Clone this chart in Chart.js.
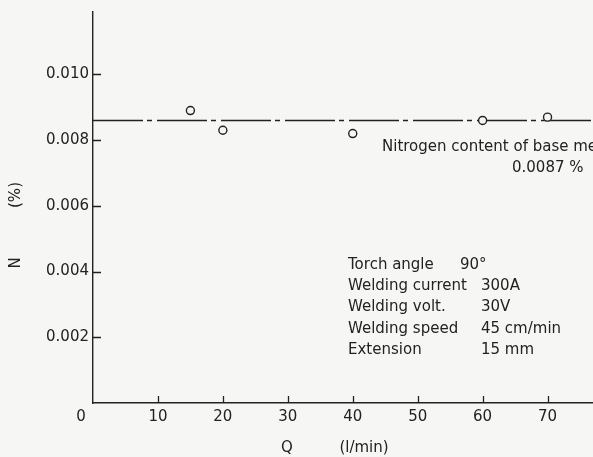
<!DOCTYPE html>
<html>
<head>
<meta charset="utf-8">
<script src="https://cdn.jsdelivr.net/npm/chart.js@4"></script>
<style>
  html, body { margin: 0; padding: 0; background: #f6f6f4; }
  #c { display: block; }
</style>
</head>
<body>
<canvas id="c" width="593" height="457"></canvas>
<script>
// CO2 flow rate Q (l/min) vs nitrogen content N (%)
const flowRate = [15, 20, 40, 60, 70];
const nitrogen = [0.0089, 0.0083, 0.0082, 0.0086, 0.0087];
const baseMetalN = 0.0086;           // dash-dot reference line
const baseLineRange = [0, 77];
const xTicks = [0, 10, 20, 30, 40, 50, 60, 70];
const yTicks = [0.002, 0.004, 0.006, 0.008, 0.010];

const ink = '#222';
const font = 'DejaVu Sans';

const conditions = [
  ['Torch angle', '90°'],
  ['Welding current', '300A'],
  ['Welding volt.', '30V'],
  ['Welding speed', '45 cm/min'],
  ['Extension', '15 mm']
];

// inside ticks, tick labels, axis titles and notes
const decor = {
  id: 'decor',
  afterDraw(chart) {
    const c = chart.ctx, xs = chart.scales.x, ys = chart.scales.y;
    const area = chart.chartArea;
    c.save();
    c.strokeStyle = ink;
    c.fillStyle = ink;
    c.lineWidth = 1.3;
    c.beginPath();
    xTicks.forEach(v => {
      if (v === 0) return;
      const px = Math.round(xs.getPixelForValue(v)) + 0.5;
      c.moveTo(px, area.bottom);
      c.lineTo(px, area.bottom - 7);
    });
    yTicks.forEach(v => {
      const py = Math.round(ys.getPixelForValue(v)) + 0.5;
      c.moveTo(area.left, py);
      c.lineTo(area.left + 8, py);
    });
    c.stroke();

    c.font = '15px ' + font;
    c.textBaseline = 'middle';
    c.textAlign = 'center';
    xTicks.forEach(v => {
      let px = xs.getPixelForValue(v);
      if (v === 0) px -= 12;
      c.fillText(String(v), px, area.bottom + 14);
    });
    c.textAlign = 'right';
    yTicks.forEach(v => {
      c.fillText(v.toFixed(3), area.left - 4, ys.getPixelForValue(v));
    });

    // axis titles
    c.textAlign = 'center';
    c.fillText('Q', 287, 448);
    c.fillText('(l/min)', 364, 448);
    c.save();
    c.translate(16, 0);
    c.rotate(-Math.PI / 2);
    c.fillText('N', -263, 0);
    c.fillText('(%)', -195, 0);
    c.restore();

    // notes
    c.textAlign = 'left';
    c.fillText('Nitrogen content of base metal', 382, 147);
    c.fillText('0.0087 %', 512, 168);
    conditions.forEach((row, i) => {
      const y = 265 + i * 21.3;
      c.fillText(row[0], 348, y);
      c.fillText(row[1], i === 0 ? 460 : 481, y);
    });
    c.restore();
  }
};

new Chart(document.getElementById('c'), {
  type: 'scatter',
  data: {
    datasets: [
      {
        type: 'line',
        data: baseLineRange.map(x => ({ x: x, y: baseMetalN })),
        borderColor: ink,
        borderWidth: 1.4,
        borderDash: [50, 4, 5, 5],
        pointRadius: 0,
        order: 2
      },
      {
        data: flowRate.map((q, i) => ({ x: q, y: nitrogen[i] })),
        pointRadius: 4,
        pointBorderWidth: 1.4,
        pointBorderColor: ink,
        pointBackgroundColor: '#f6f6f4',
        order: 1
      }
    ]
  },
  options: {
    responsive: false,
    animation: false,
    layout: { autoPadding: false, padding: { top: 12, right: 0, left: 0, bottom: 0 } },
    plugins: { legend: { display: false }, tooltip: { enabled: false } },
    scales: {
      x: {
        type: 'linear', min: 0, max: 77,
        grid: { display: false },
        border: { color: ink, width: 1.4 },
        ticks: { display: false },
        afterFit: s => { s.height = 54; }
      },
      y: {
        type: 'linear', min: 0, max: 0.0119,
        grid: { display: false },
        border: { color: ink, width: 1.4 },
        ticks: { display: false },
        afterFit: s => { s.width = 93; }
      }
    }
  },
  plugins: [decor]
});
</script>
</body>
</html>
